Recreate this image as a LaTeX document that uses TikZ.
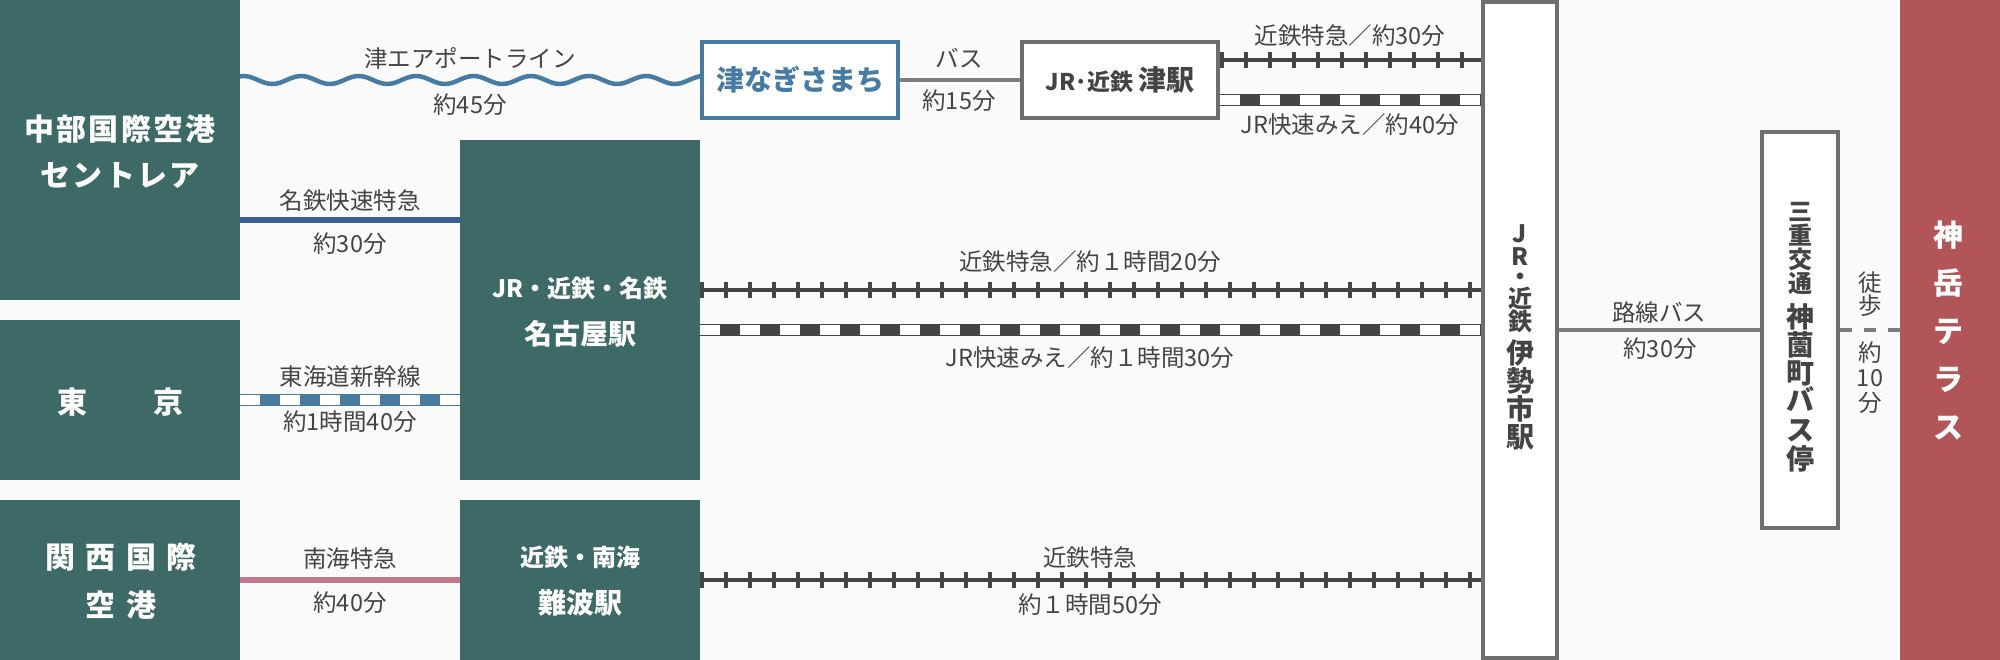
\documentclass[tikz,border=0pt]{standalone}
\usepackage{fontspec}
\setmainfont{Noto Sans CJK JP}
\usetikzlibrary{decorations.pathmorphing}
\usetikzlibrary{backgrounds}
\definecolor{paper}{HTML}{FAFAFA}
\definecolor{stagreen}{HTML}{3D6966}
\definecolor{goalred}{HTML}{B25558}
\definecolor{framegray}{HTML}{6F6F6F}
\definecolor{busgray}{HTML}{7D7D7D}
\definecolor{inkgray}{HTML}{444444}
\definecolor{seablue}{HTML}{477BA3}
\definecolor{meiblue}{HTML}{3B5F91}
\definecolor{nankaipink}{HTML}{C2788A}
\tikzset{
  fullbox/.style={rectangle, inner sep=0pt, fill=#1},
  framebox/.style={rectangle, inner sep=0pt, draw=#1, fill=white, line width=4pt, text=inkgray, font=\bfseries},
  whitename/.style={inner sep=0pt, text=white, font=\bfseries, align=center},
  lab/.style={inner sep=0pt, text=inkgray, font=\fontsize{23.5}{28}\selectfont},
  stack/.style={align=center, inner sep=0pt, font={\lineskiplimit=-100pt\baselineskip=#1pt\relax}},
  boldstack/.style={align=center, inner sep=0pt, font={\lineskiplimit=-100pt\baselineskip=#1pt\relax\bfseries}},
  railtie/.style={draw=inkgray, line width=16pt, dash pattern=on 4pt off 20pt},
  railbar/.style={draw=inkgray, line width=4pt},
  plainline/.style={draw=#1, line width=6pt},
  busline/.style={draw=busgray, line width=4pt},
  stripeedge/.style={draw=#1, line width=12pt},
  stripefill/.style={draw=white, line width=10pt},
  stripeblock/.style={draw=#1, line width=12pt, dash pattern=on 20pt off 20pt, dash phase=20pt},
  waveline/.style={draw=seablue, line width=4.5pt, decorate, decoration={snake, segment length=57.5pt, amplitude=4pt}}
}
\newcommand{\bsize}[1]{\fontsize{#1}{#1}\selectfont}
\newcommand{\spaced}[1]{\addfontfeature{LetterSpace=#1}}
\newcommand{\lsize}{\fontsize{23.5}{23.5}\selectfont}
\begin{document}
\begin{tikzpicture}[x=1pt,y=-1pt]
	\useasboundingbox (0,0) rectangle (2000,660);
	
	% green stations
	\node[fullbox=stagreen, minimum width=240pt, minimum height=300pt] (chubu) at (120,150) {};
	\node[fullbox=stagreen, minimum width=240pt, minimum height=160pt] (tokyo) at (120,400) {};
	\node[fullbox=stagreen, minimum width=240pt, minimum height=160pt] (kansai) at (120,580) {};
	\node[fullbox=stagreen, minimum width=240pt, minimum height=340pt] (nagoya) at (580,310) {};
	\node[fullbox=stagreen, minimum width=240pt, minimum height=160pt] (namba) at (580,580) {};
	
	% framed stations
	\node[framebox=seablue, minimum width=196pt, minimum height=76pt, text=seablue] (tsunagi) at (800,80) {\bsize{28}津なぎさまち};
	\node[framebox=framegray, minimum width=196pt, minimum height=76pt] (tsu) at (1120,80) {\bsize{23}JR･近鉄 \bsize{28}津駅};
	\node[framebox=framegray, minimum width=74pt, minimum height=656pt] (iseshi) at (1520,330) {};
	\node[framebox=framegray, minimum width=76pt, minimum height=396pt] (kamizono) at (1800,330) {};
	\node[fullbox=goalred, minimum width=100pt, minimum height=660pt] (terrace) at (1950,330) {};
	
	% names inside the big boxes
	\node[whitename] (chubuname) at (120,152) {\bsize{30}\spaced{8}中部国際空港\\[18pt]\bsize{30}\spaced{8}セントレア};
	\node[whitename] (tokyoname) at (120,402) {\bsize{30}東\hspace{66pt}京};
	\node[whitename] (kansainame) at (121,581) {\bsize{30}\spaced{35}関西国際\\[18pt]\bsize{30}\spaced{35}空港};
	\node[whitename] (nagoyaname) at (580,312) {\bsize{24}JR・近鉄・名鉄\\[19pt]\bsize{28}名古屋駅};
	\node[whitename] (nambaname) at (580,581) {\bsize{24}近鉄・南海\\[20pt]\bsize{28}難波駅};
	\node[boldstack=23, text=inkgray] (isename) at (1520,337) {\bsize{24}J\\\bsize{24}R\\[-3pt]\bsize{24}・\\[-1pt]\bsize{24}近\\\bsize{24}鉄\\[10pt]\bsize{28}伊\\[5pt]\bsize{28}勢\\[5pt]\bsize{28}市\\[5pt]\bsize{28}駅};
	\node[boldstack=24, text=inkgray] (stopname) at (1800,337) {\bsize{24}三\\\bsize{24}重\\\bsize{24}交\\\bsize{24}通\\[11pt]\bsize{28}神\\[4pt]\bsize{28}薗\\[4pt]\bsize{28}町\\[3pt]\bsize{28}バ\\[6pt]\bsize{28}ス\\[5pt]\bsize{28}停};
	\node[boldstack=48, text=white] (goalname) at (1948,330) {\bsize{30}神\\\bsize{30}岳\\\bsize{30}テ\\\bsize{30}ラ\\\bsize{30}ス};
	
	\coordinate (meitetsustart) at (240,220);
	\coordinate (wavestart) at (225.6,80);
	\coordinate (kinA) at ([yshift=20pt]nagoya.east);
	\coordinate (jrA) at ([yshift=-20pt]nagoya.east);
	\coordinate (kinB) at ([yshift=20pt]tsu.east);
	\coordinate (jrB) at ([yshift=-20pt]tsu.east);
	
	% lines
	\begin{scope}[on background layer]
		\fill[paper] (0,0) rectangle (2000,660);
		\draw[waveline] (wavestart) -- (wavestart -| tsunagi.center);
	\end{scope}
	\draw[plainline=meiblue] (meitetsustart) -- (meitetsustart -| nagoya.west);
	\draw[plainline=nankaipink] (kansai.east) -- (namba.west);
	\draw[busline] (tsunagi.east) -- (tsu.west);
	\draw[busline] (iseshi.east) -- (kamizono.west);
	\draw[busline, dash pattern=on 12pt off 12pt] (kamizono.east) -- (terrace.west);
	
	% rails
	\foreach \from/\tostat in {kinA/iseshi, kinB/iseshi, namba.east/iseshi}{
		\draw[railtie] (\from) -- (\from -| \tostat.west);
		\draw[railbar] (\from) -- (\from -| \tostat.west);
	}
	\foreach \from/\tostat/\col in {jrA/iseshi/inkgray, jrB/iseshi/inkgray, tokyo.east/nagoya/seablue}{
		\draw[stripeedge=\col] (\from) -- (\from -| \tostat.west);
		\draw[stripefill] (\from) -- (\from -| \tostat.west);
		\draw[stripeblock=\col] (\from) -- (\from -| \tostat.west);
	}
	
	% labels
	\node[lab] (lineair) at (470,58) {津エアポートライン};
	\node[lab] (timeair) at (470,105) {約45分};
	\node[lab] (linemei) at (350,201) {名鉄快速特急};
	\node[lab] (timemei) at (350,244) {約30分};
	\node[lab] (linesin) at (350,377) {東海道新幹線};
	\node[lab] (timesin) at (350,422) {約1時間40分};
	\node[lab] (linenan) at (350,559) {南海特急};
	\node[lab] (timenan) at (350,603) {約40分};
	\node[lab] (linebus) at (959,58) {バス};
	\node[lab] (timebus) at (959,101) {約15分};
	\node[lab] (tsukin) at (1350,36) {近鉄特急／約30分};
	\node[lab] (tsujr) at (1350,125) {JR快速みえ／約40分};
	\node[lab] (nagokin) at (1090,262) {近鉄特急／約１時間20分};
	\node[lab] (nagojr) at (1090,358) {JR快速みえ／約１時間30分};
	\node[lab] (nankin) at (1090,558) {近鉄特急};
	\node[lab] (nantime) at (1090,605) {約１時間50分};
	\node[lab] (routebus) at (1659,313) {路線バス};
	\node[lab] (routetime) at (1660,349) {約30分};
	\node[stack=23] (walklab) at (1870,294) {\color{inkgray}\lsize 徒\\\color{inkgray}\lsize 歩};
	\node[stack=25] (walktime) at (1870,378) {\color{inkgray}\lsize 約\\\color{inkgray}\lsize 10\\\color{inkgray}\lsize 分};
\end{tikzpicture}
\end{document}
